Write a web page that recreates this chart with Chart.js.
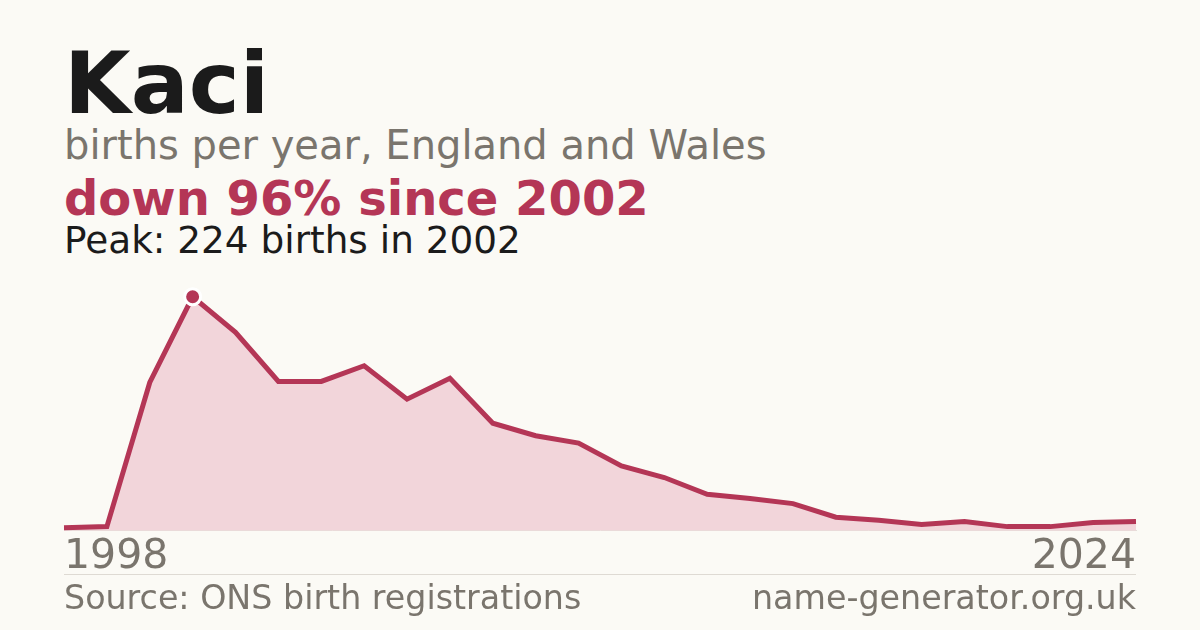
<!DOCTYPE html>
<html>
<head>
<meta charset="utf-8">
<script src="https://cdn.jsdelivr.net/npm/chart.js@4.4.1/dist/chart.umd.min.js"></script>
<style>
  html, body { margin: 0; padding: 0; }
  body {
    width: 1200px; height: 630px; overflow: hidden; position: relative;
    background: #fbfaf5; font-family: "DejaVu Sans", sans-serif;
  }
  .txt { position: absolute; left: 64px; white-space: nowrap; line-height: 1; }
  #title { top: 40px; font-size: 86px; font-weight: bold; color: #1b1b1b; }
  #sub { top: 125px; font-size: 40px; color: #7a756d; }
  #trend { top: 174px; font-size: 48px; font-weight: bold; color: #b43656; }
  #peak { top: 222px; font-size: 37.4px; color: #1b1b1b; }
  #rule { position: absolute; left: 64px; top: 574px; width: 1072px; height: 1px; background: #dedad3; }
  .foot { position: absolute; top: 581px; font-size: 33.3px; color: #7a756d; line-height: 1; white-space: nowrap; }
  #src { left: 64px; }
  #site { right: 64px; }
  /* tick padding (2px) is added on both sides of the x axis, so the box is 2px wider each way */
  #wrap { position: absolute; left: 62px; top: 279px; width: 1076px; height: 305px; }
</style>
</head>
<body>
<div class="txt" id="title">Kaci</div>
<div class="txt" id="sub">births per year, England and Wales</div>
<div class="txt" id="trend">down 96% since 2002</div>
<div class="txt" id="peak">Peak: 224 births in 2002</div>
<div id="wrap"><canvas id="chart"></canvas></div>
<div id="rule"></div>
<div class="foot" id="src">Source: ONS birth registrations</div>
<div class="foot" id="site">name-generator.org.uk</div>
<script>
// no 1999 in the series (name not listed that year)
const years = [1998, 2000, 2001, 2002, 2003, 2004, 2005, 2006, 2007, 2008, 2009, 2010, 2011,
  2012, 2013, 2014, 2015, 2016, 2017, 2018, 2019, 2020, 2021, 2022, 2023, 2024];
const births = [3, 4, 142, 224, 190, 143, 143, 158, 126, 146, 103, 91, 84,
  62, 51, 35, 31, 26, 13, 10, 6, 9, 4, 4, 8, 9];
const peakYear = 2002;

const crimson = '#b43656';

const ctx = document.getElementById('chart').getContext('2d');
const chart = new Chart(ctx, {
  type: 'line',
  data: {
    labels: years,
    datasets: [{
      data: births,
      borderColor: crimson,
      borderWidth: 5,
      backgroundColor: '#f2d5da',
      fill: 'origin',
      tension: 0,
      clip: false,
      pointRadius: years.map(y => y === peakYear ? 8 : 0),
      pointHoverRadius: 0,
      pointBackgroundColor: crimson,
      pointBorderColor: '#ffffff',
      pointBorderWidth: 3
    }]
  },
  options: {
    responsive: true,
    maintainAspectRatio: false,
    animation: false,
    layout: { padding: 0, autoPadding: false },
    plugins: { legend: { display: false }, tooltip: { enabled: false } },
    scales: {
      x: {
        offset: false,
        grid: { display: false, drawTicks: false },
        border: { display: true, color: '#e3dfd9', width: 1 },
        ticks: {
          autoSkip: false,
          maxRotation: 0,
          align: 'inner',
          padding: 2,
          color: '#7a756d',
          font: { family: 'DejaVu Sans', size: 41 },
          callback: function (value, i, ticks) {
            return (i === 0 || i === ticks.length - 1) ? this.getLabelForValue(value) : '';
          }
        }
      },
      y: {
        display: false,
        min: 0,
        max: 241
      }
    }
  }
});
</script>
</body>
</html>
